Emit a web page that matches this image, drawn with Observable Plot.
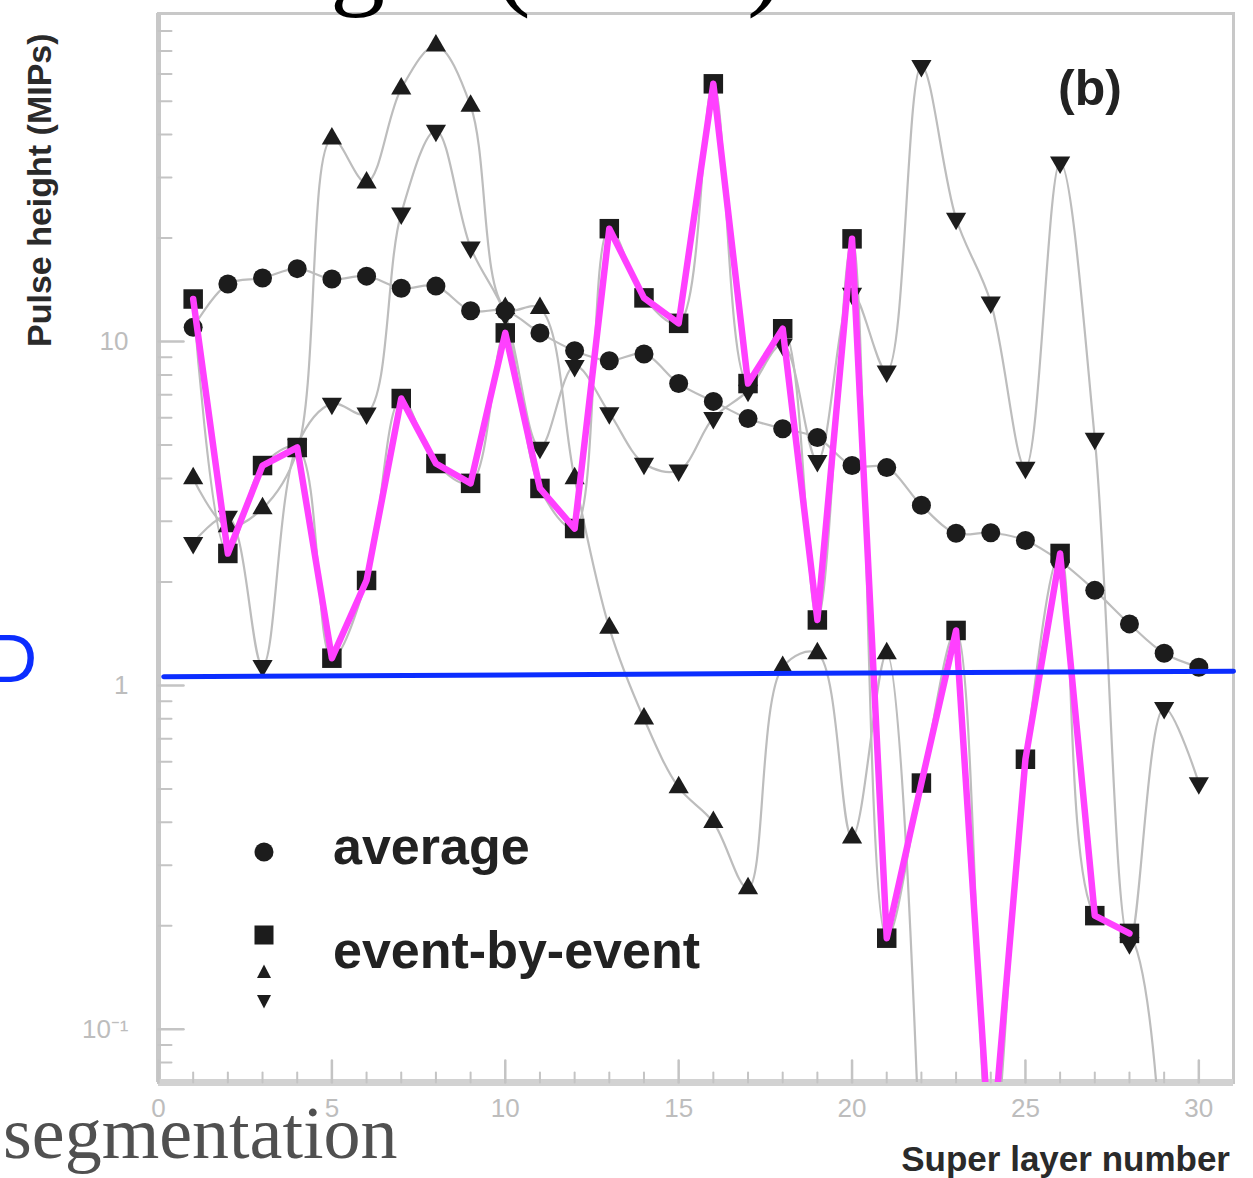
<!DOCTYPE html>
<html>
<head>
<meta charset="utf-8">
<script src="https://cdn.jsdelivr.net/npm/d3@7"></script>
<script src="https://cdn.jsdelivr.net/npm/@observablehq/plot@0.6"></script>
<style>
html,body{margin:0;padding:0;background:#fff;}
#wrap{position:relative;width:1253px;height:1178px;overflow:hidden;background:#fff;}
#wrap > svg{position:absolute;left:0;top:0;}
.ov{position:absolute;white-space:nowrap;line-height:1;}
.sans{font-family:"Liberation Sans",Arial,sans-serif;}
.serif{font-family:"Liberation Serif","Times New Roman",serif;}
</style>
</head>
<body>
<div id="wrap"></div>
<script>
// ---- data ----
const layer = [1,2,3,4,5,6,7,8,9,10,11,12,13,14,15,16,17,18,19,20,21,22,23,24,25,26,27,28,29,30];
const average = [11.0,14.7,15.3,16.3,15.2,15.5,14.3,14.5,12.3,12.3,10.6,9.4,8.8,9.2,7.55,6.7,5.97,5.58,5.26,4.36,4.3,3.34,2.77,2.78,2.64,2.3,1.89,1.51,1.24,1.13];
const eventSquare = [13.3,2.42,4.36,4.92,1.20,2.02,6.83,4.42,3.87,10.6,3.74,2.86,21.3,13.4,11.3,56.2,7.55,10.9,1.55,19.9,0.184,0.52,1.445,0.04,0.61,2.42,0.214,0.19,0.03];
const eventUp = [4.0,2.9,3.27,4.8,38.9,29.0,54.4,72.5,48.5,12.5,12.5,4.0,1.47,0.80,0.505,0.40,0.257,1.13,1.24,0.361,1.24,0.03];
const eventDown = [2.6,3.1,1.14,5.0,6.6,6.18,23.6,41.1,18.8,12.0,4.92,8.5,6.2,4.42,4.22,6.0,7.2,9.8,4.5,13.8,8.2,63.4,22.8,13.0,4.3,33.2,5.22,0.178,0.86,0.52];
const highlightLastLayer = 28;           // pink overlay follows the squares up to here
const refLineX = [0.15, 31];             // blue reference line (≈ 1 MIP)
const refLineY = [1.06, 1.10];

const xDomain = [0, 31];
const yDomain = [0.07, 90];
const xMajor = [0,5,10,15,20,25,30];
const xMinor = [1,2,3,4,6,7,8,9,11,12,13,14,16,17,18,19,21,22,23,24,26,27,28,29];
const yMajor = [0.1, 1, 10];
const yMajorLabels = ["10\u207B\u00B9", "1", "10"];
const yMinor = [0.08,0.09,0.2,0.3,0.4,0.5,0.6,0.7,0.8,0.9,2,3,4,5,6,7,8,9,20,30,40,50,60,70,80];

// ---- tables ----
const toRows = (vals) => vals.map((v, i) => ({x: layer[i], y: v}));
const avgRows = toRows(average);
const sqRows = toRows(eventSquare);
const upRows = toRows(eventUp);
const downRows = toRows(eventDown);
const pinkRows = sqRows.filter(d => d.x <= highlightLastLayer);
const refRows = refLineX.map((x, i) => ({x, y: refLineY[i]}));

const tickShape = {draw(ctx, l) { ctx.moveTo(0, 0); ctx.lineTo(0, -l); }};
const downTriangle = {draw(ctx, size) {
  const y = Math.sqrt(size / (Math.sqrt(3) * 3));
  ctx.moveTo(0, y * 2); ctx.lineTo(-Math.sqrt(3) * y, -y); ctx.lineTo(Math.sqrt(3) * y, -y); ctx.closePath();
}};

const grayLine = {x: "x", y: "y", curve: "catmull-rom", stroke: "#bdbdbd", strokeWidth: 2.2, clip: true};
const ink = "#1c1c1c";
const tickGray = "#c4c4c4";

const chart = Plot.plot({
  width: 1253,
  height: 1178,
  marginTop: 13,
  marginBottom: 96,
  marginLeft: 158,
  marginRight: 20,
  style: {fontFamily: "'Liberation Sans', Arial, sans-serif", fontSize: "26px", color: "#bdbdbd", background: "white", overflow: "visible"},
  x: {domain: xDomain, ticks: xMajor, tickSize: 0, tickPadding: 16, tickFormat: d => String(d), label: null},
  y: {type: "log", domain: yDomain, ticks: yMajor, tickFormat: d => yMajorLabels[yMajor.indexOf(d)], tickSize: 0, tickPadding: 30, label: null},
  marks: [
    Plot.frame({stroke: "#c8c8c8", strokeWidth: 3}),
    Plot.ruleX([xDomain[0]], {stroke: "#c8c8c8", strokeWidth: 5}),
    Plot.ruleY([yDomain[0]], {stroke: "#d2d2d2", strokeWidth: 7}),
    Plot.vector(yMinor, {y: d => d, frameAnchor: "left", length: 13, rotate: 90, anchor: "start", shape: tickShape, stroke: tickGray, strokeWidth: 2}),
    Plot.vector(yMajor, {y: d => d, frameAnchor: "left", length: 25, rotate: 90, anchor: "start", shape: tickShape, stroke: tickGray, strokeWidth: 2.5}),
    Plot.vector(xMinor, {x: d => d, frameAnchor: "bottom", length: 10, rotate: 0, anchor: "start", shape: tickShape, stroke: tickGray, strokeWidth: 2}),
    Plot.vector(xMajor, {x: d => d, frameAnchor: "bottom", length: 22, rotate: 0, anchor: "start", shape: tickShape, stroke: tickGray, strokeWidth: 2.5}),
    Plot.line(avgRows, grayLine),
    Plot.line(sqRows, grayLine),
    Plot.line(upRows, grayLine),
    Plot.line(downRows, grayLine),
    Plot.dot(avgRows, {x: "x", y: "y", r: 9.5, fill: ink, clip: true}),
    Plot.dot(upRows, {x: "x", y: "y", r: 7.5, symbol: "triangle", fill: ink, clip: true}),
    Plot.dot(downRows, {x: "x", y: "y", r: 7.5, symbol: downTriangle, fill: ink, clip: true}),
    Plot.dot(sqRows, {x: "x", y: "y", r: 11, symbol: "square", fill: ink, clip: true}),
    Plot.line(pinkRows, {x: "x", y: "y", stroke: "#ff40ff", strokeWidth: 6.5, clip: true}),
    Plot.line(refRows, {x: "x", y: "y", stroke: "#0b2dff", strokeWidth: 5})
  ]
});

const wrap = document.getElementById("wrap");
wrap.appendChild(chart);

function addText(txt, cls, css) {
  const d = document.createElement("div");
  d.className = "ov " + cls;
  d.textContent = txt;
  Object.assign(d.style, css);
  wrap.appendChild(d);
  return d;
}
// slide fragments (cut off by the crop, as in the reference)
addText("g", "serif", {left: "330px", top: "-97px", fontSize: "110px", color: "#000"});
addText("(", "serif", {left: "494px", top: "-97px", fontSize: "110px", color: "#000"});
addText(")", "serif", {left: "747px", top: "-97px", fontSize: "110px", color: "#000"});
addText("D", "sans", {left: "-12px", top: "624px", fontSize: "68px", color: "#0b2dff"});
addText("segmentation", "serif", {left: "3px", top: "1096px", fontSize: "74px", color: "#505050"});

// axis titles and panel label
addText("Pulse height (MIPs)", "sans", {left: "22px", top: "347px", fontSize: "34px", fontWeight: "bold", color: "#2a2a2a", transformOrigin: "0 0", transform: "rotate(-90deg)"});
addText("Super layer number", "sans", {right: "23px", top: "1141px", fontSize: "35px", fontWeight: "bold", color: "#2a2a2a"});
addText("(b)", "sans", {left: "1058px", top: "63px", fontSize: "50px", fontWeight: "bold", color: "#222"});

// legend
addText("average", "sans", {left: "333px", top: "820px", fontSize: "52px", fontWeight: "bold", color: "#222"});
addText("event-by-event", "sans", {left: "333px", top: "924px", fontSize: "52px", fontWeight: "bold", color: "#222"});
function swatch(cx, cy, w, h, inner) {
  const ns = "http://www.w3.org/2000/svg";
  const s = document.createElementNS(ns, "svg");
  s.setAttribute("width", w); s.setAttribute("height", h);
  s.setAttribute("viewBox", `${-w/2} ${-h/2} ${w} ${h}`);
  s.style.position = "absolute";
  s.style.left = (cx - w/2) + "px";
  s.style.top = (cy - h/2) + "px";
  s.innerHTML = inner;
  wrap.appendChild(s);
}
swatch(264, 852, 22, 22, `<circle r="9.5" fill="${ink}"/>`);
swatch(264, 935, 22, 22, `<rect x="-9.5" y="-9.5" width="19" height="19" fill="${ink}"/>`);
swatch(264, 972, 18, 18, `<polygon points="0,-7.5 7,6 -7,6" fill="${ink}"/>`);
swatch(264, 1001, 18, 18, `<polygon points="0,7.5 7,-6 -7,-6" fill="${ink}"/>`);
</script>
</body>
</html>
